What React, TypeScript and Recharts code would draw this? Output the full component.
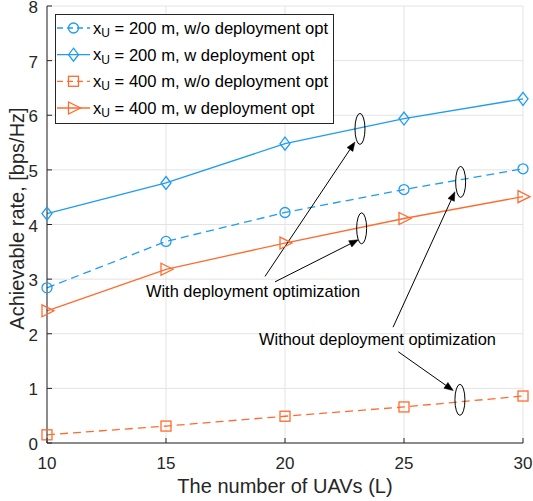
import React from "react";
import {
  LineChart,
  Line,
  XAxis,
  YAxis,
  CartesianGrid,
  Legend,
  ReferenceDot,
  ReferenceLine,
} from "recharts";

const uavCounts = [10, 15, 20, 25, 30];
const rate200WithoutOpt = [2.84, 3.69, 4.22, 4.64, 5.02];
const rate200WithOpt = [4.2, 4.76, 5.48, 5.94, 6.3];
const rate400WithoutOpt = [0.15, 0.31, 0.49, 0.66, 0.86];
const rate400WithOpt = [2.42, 3.18, 3.66, 4.11, 4.51];
const xTicks = [10, 15, 20, 25, 30];
const yTicks = [0, 1, 2, 3, 4, 5, 6, 7, 8];

const legendLabels = [
  " = 200 m, w/o deployment opt",
  " = 200 m, w deployment opt",
  " = 400 m, w/o deployment opt",
  " = 400 m, w deployment opt",
];

const ellipses = [
  { x: 23.15, y: 5.75 },
  { x: 23.22, y: 3.93 },
  { x: 27.38, y: 4.78 },
  { x: 27.35, y: 0.79 },
];
const arrows = [
  { x1: 19.16, y1: 3.05, x2: 22.94, y2: 5.51 },
  { x1: 19.58, y1: 2.95, x2: 23.08, y2: 3.72 },
  { x1: 24.54, y1: 2.12, x2: 27.14, y2: 4.6 },
  { x1: 24.76, y1: 1.67, x2: 27.07, y2: 0.96 },
];
const notes = [
  { x: 14.16, y: 2.78, text: "With deployment optimization" },
  { x: 18.91, y: 1.91, text: "Without deployment optimization" },
];

const data = uavCounts.map((x, i) => ({
  x,
  a: rate200WithoutOpt[i],
  b: rate200WithOpt[i],
  c: rate400WithoutOpt[i],
  d: rate400WithOpt[i],
}));

const BLUE = "#1f9cf0";
const ORANGE = "#ff6b2e";
const AX = "#262626";
const FONT = "'Liberation Sans', Arial, Helvetica, sans-serif";

type Kind = "circle" | "diamond" | "square" | "triangle";

function markerShape(kind: Kind, cx: number, cy: number, color: string, key?: any) {
  const sw = 1.3;
  if (kind === "circle")
    return <circle key={key} cx={cx} cy={cy} r={5} fill="none" stroke={color} strokeWidth={sw} />;
  if (kind === "square")
    return <rect key={key} x={cx - 5} y={cy - 5} width={10} height={10} fill="none" stroke={color} strokeWidth={sw} />;
  if (kind === "diamond")
    return (
      <polygon
        key={key}
        points={`${cx},${cy - 6.5} ${cx + 5},${cy} ${cx},${cy + 6.5} ${cx - 5},${cy}`}
        fill="none"
        stroke={color}
        strokeWidth={sw}
      />
    );
  return (
    <polygon
      key={key}
      points={`${cx - 5},${cy - 6} ${cx + 7},${cy} ${cx - 5},${cy + 6}`}
      fill="none"
      stroke={color}
      strokeWidth={sw}
    />
  );
}

const makeDot = (kind: Kind, color: string) => (props: any) => {
  const { cx, cy, index } = props;
  if (cx == null || cy == null) return <g key={`n${index}`} />;
  return markerShape(kind, cx, cy, color, `${kind}-${index}`);
};

const series = [
  { key: "a", color: BLUE, dash: "8 5", kind: "circle" as Kind },
  { key: "b", color: BLUE, dash: undefined, kind: "diamond" as Kind },
  { key: "c", color: ORANGE, dash: "8 5", kind: "square" as Kind },
  { key: "d", color: ORANGE, dash: undefined, kind: "triangle" as Kind },
];

const XTickBottom = (props: any) => {
  const { x, y, payload } = props;
  return (
    <g>
      <line x1={x} y1={y} x2={x} y2={y - 5} stroke={AX} strokeWidth={1} />
      <text x={x} y={y + 20} textAnchor="middle" dominantBaseline="central" fontSize={17} fill={AX} fontFamily={FONT}>
        {payload.value}
      </text>
    </g>
  );
};
const XTickTop = (props: any) => {
  const { x, y } = props;
  return <line x1={x} y1={y} x2={x} y2={y + 5} stroke={AX} strokeWidth={1} />;
};
const YTickLeft = (props: any) => {
  const { x, y, payload } = props;
  return (
    <g>
      <line x1={x} y1={y} x2={x + 5} y2={y} stroke={AX} strokeWidth={1} />
      <text x={x - 9} y={y + 1.5} textAnchor="end" dominantBaseline="central" fontSize={17} fill={AX} fontFamily={FONT}>
        {payload.value}
      </text>
    </g>
  );
};
const YTickRight = (props: any) => {
  const { x, y } = props;
  return <line x1={x} y1={y} x2={x - 5} y2={y} stroke={AX} strokeWidth={1} />;
};

const YLabel = (props: any) => {
  const vb = props.viewBox || { x: 7, y: 6, width: 40, height: 437 };
  const cx = vb.x + 10;
  const cy = vb.y + vb.height / 2 - 6;
  return (
    <text
      x={cx}
      y={cy}
      transform={`rotate(-90 ${cx} ${cy})`}
      textAnchor="middle"
      dominantBaseline="central"
      fontSize={20}
      fill={AX}
      fontFamily={FONT}
    >
      Achievable rate, [bps/Hz]
    </text>
  );
};

const EllipseShape = (props: any) => {
  const { cx, cy } = props;
  return <ellipse cx={cx} cy={cy} rx={5} ry={15.5} fill="none" stroke="#000" strokeWidth={1} />;
};

const ArrowShape = (props: any) => {
  const { x1, y1, x2, y2 } = props;
  const dx = x2 - x1;
  const dy = y2 - y1;
  const len = Math.sqrt(dx * dx + dy * dy) || 1;
  const ux = dx / len;
  const uy = dy / len;
  const hl = 9;
  const hw = 3.5;
  const bx = x2 - ux * hl;
  const by = y2 - uy * hl;
  const p1 = `${x2},${y2}`;
  const p2 = `${bx - uy * hw},${by + ux * hw}`;
  const p3 = `${bx + uy * hw},${by - ux * hw}`;
  return (
    <g>
      <line x1={x1} y1={y1} x2={bx} y2={by} stroke="#000" strokeWidth={1} />
      <polygon points={`${p1} ${p2} ${p3}`} fill="#000" stroke="#000" strokeWidth={0.5} />
    </g>
  );
};

const makeNote = (text: string) => (props: any) => {
  const { cx, cy } = props;
  return (
    <text x={cx} y={cy} textAnchor="start" dominantBaseline="central" fontSize={16.4} fill="#000" fontFamily={FONT}>
      {text}
    </text>
  );
};

const LegendBox = () => {
  const rowY = [28, 54.7, 81.3, 108];
  const ox = 55;
  const oy = 14;
  return (
    <svg width={280} height={111} style={{ display: "block" }}>
      <rect x={0.5} y={0.5} width={278} height={109} fill="#fff" stroke={AX} strokeWidth={1} />
      {series.map((s, i) => {
        const cy = rowY[i] - oy;
        const x1 = 57 - ox;
        const x2 = 90 - ox;
        const cx = (x1 + x2) / 2;
        return (
          <g key={s.key}>
            <line x1={x1} y1={cy} x2={x2} y2={cy} stroke={s.color} strokeWidth={1.3} strokeDasharray={s.dash ? "6 4" : undefined} />
            {markerShape(s.kind, cx, cy, s.color)}
            <text x={93 - ox} y={cy} dominantBaseline="central" fontSize={16.6} fill="#000" fontFamily={FONT}>
              x
              <tspan fontSize={12} dy={5}>U</tspan>
              <tspan dy={-5}>{legendLabels[i]}</tspan>
            </text>
          </g>
        );
      })}
    </svg>
  );
};

export default function App() {
  return (
    <div style={{ position: "absolute", left: 0, top: 0, width: 533, height: 501, background: "#fff" }}>
      <LineChart
        width={533}
        height={501}
        data={data}
        margin={{ top: 6, right: 10, bottom: 28, left: 7 }}
        style={{ fontFamily: FONT, overflow: "visible" }}
      >
        <CartesianGrid stroke="#e3e3e3" strokeWidth={1} />
        <XAxis
          dataKey="x"
          type="number"
          domain={[10, 30]}
          ticks={xTicks}
          height={30}
          tickSize={0}
          tickMargin={0}
          tickLine={false}
          axisLine={{ stroke: AX, strokeWidth: 1 }}
          tick={<XTickBottom />}
          interval={0}
          label={{ value: "The number of UAVs (L)", position: "insideBottom", offset: -20, fontSize: 20, fill: AX, fontFamily: FONT }}
        />
        <XAxis
          xAxisId="top"
          orientation="top"
          dataKey="x"
          type="number"
          domain={[10, 30]}
          ticks={xTicks}
          height={0}
          tickSize={0}
          tickLine={false}
          axisLine={{ stroke: AX, strokeWidth: 1 }}
          tick={<XTickTop />}
          interval={0}
        />
        <YAxis
          type="number"
          domain={[0, 8]}
          ticks={yTicks}
          width={40}
          tickSize={0}
          tickMargin={0}
          tickLine={false}
          axisLine={{ stroke: AX, strokeWidth: 1 }}
          tick={<YTickLeft />}
          interval={0}
          label={<YLabel />}
        />
        <YAxis
          yAxisId="right"
          orientation="right"
          type="number"
          domain={[0, 8]}
          ticks={yTicks}
          width={0}
          tickSize={0}
          tickLine={false}
          axisLine={{ stroke: AX, strokeWidth: 1 }}
          tick={<YTickRight />}
          interval={0}
        />
        {series.map((s) => (
          <Line
            key={s.key}
            dataKey={s.key}
            type="linear"
            stroke={s.color}
            strokeWidth={1.3}
            strokeDasharray={s.dash}
            dot={makeDot(s.kind, s.color)}
            activeDot={false}
            isAnimationActive={false}
          />
        ))}
        {ellipses.map((e, i) => (
          <ReferenceDot key={`e${i}`} x={e.x} y={e.y} shape={<EllipseShape />} ifOverflow="visible" />
        ))}
        {arrows.map((a, i) => (
          <ReferenceLine
            key={`a${i}`}
            segment={[
              { x: a.x1, y: a.y1 },
              { x: a.x2, y: a.y2 },
            ]}
            shape={<ArrowShape />}
            ifOverflow="visible"
          />
        ))}
        {notes.map((n, i) => (
          <ReferenceDot key={`t${i}`} x={n.x} y={n.y} shape={makeNote(n.text)} ifOverflow="visible" />
        ))}
        <Legend
          layout="vertical"
          align="center"
          verticalAlign="middle"
          content={<LegendBox />}
          wrapperStyle={{ left: 55, top: 14, width: 280, height: 111, bottom: "auto", right: "auto" }}
        />
      </LineChart>
    </div>
  );
}
